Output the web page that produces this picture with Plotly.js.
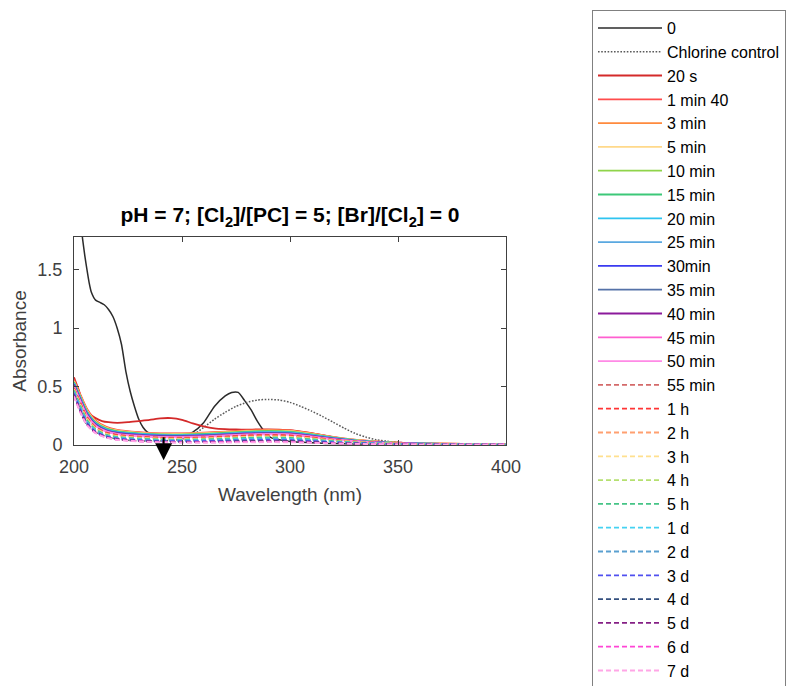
<!DOCTYPE html>
<html><head><meta charset="utf-8">
<script src="https://cdn.plot.ly/plotly-3.0.1.min.js"></script>
<style>html,body{margin:0;padding:0;background:#fff}#chart{width:786px;height:686px}</style>
</head><body><div id="chart"></div>
<script>
// ---- Data ----
const wlZero = [200,201,202,203,204,205,206,207,208,210,212,214,216,218,220,222,224,226,228,230,232,234,236,238,240,245,250,255,260,265,270,273,276,279,282,285,288,291,295,300,310,320,340,360,380,400];
const absZero = [1.80,1.95,2.0,1.92,1.76,1.62,1.50,1.39,1.31,1.24,1.22,1.20,1.16,1.10,1.0,0.86,0.63,0.46,0.33,0.22,0.15,0.11,0.09,0.078,0.072,0.068,0.075,0.11,0.19,0.33,0.42,0.45,0.45,0.38,0.30,0.20,0.12,0.065,0.045,0.03,0.02,0.012,0.008,0.005,0.004,0.003];

const wlControl = [200,205,210,220,230,240,245,250,255,260,265,270,275,280,285,290,295,300,305,310,315,320,325,330,335,340,345,350,360,370,380,400];
const absControl = [0.45,0.2,0.11,0.05,0.035,0.035,0.04,0.05,0.085,0.15,0.22,0.28,0.33,0.365,0.385,0.39,0.385,0.365,0.33,0.29,0.245,0.195,0.145,0.10,0.068,0.045,0.032,0.023,0.013,0.009,0.007,0.004];

const wl20s = [200,202,204,206,208,210,213,216,220,225,230,235,240,245,250,255,260,265,270,275,280,285,290,295,300,310,320,330,340,350,360,380,400];
const abs20s = [0.58,0.48,0.37,0.30,0.255,0.23,0.205,0.195,0.19,0.195,0.205,0.215,0.228,0.23,0.215,0.185,0.16,0.143,0.136,0.133,0.132,0.133,0.134,0.132,0.127,0.102,0.068,0.043,0.028,0.02,0.014,0.01,0.008];

const wl = [200,203,206,210,215,220,230,240,250,260,270,280,290,300,310,320,330,340,350,360,380,400];
const a1m40 = [0.56,0.43,0.31,0.21,0.155,0.13,0.11,0.10,0.10,0.105,0.115,0.125,0.13,0.125,0.10,0.07,0.045,0.03,0.02,0.014,0.01,0.008];
const a3m = [0.55,0.42,0.30,0.205,0.15,0.126,0.106,0.097,0.097,0.102,0.112,0.122,0.127,0.122,0.098,0.068,0.044,0.029,0.019,0.013,0.009,0.007];
const a5m = [0.545,0.415,0.295,0.20,0.146,0.122,0.103,0.094,0.094,0.099,0.108,0.118,0.123,0.118,0.095,0.066,0.043,0.028,0.018,0.013,0.009,0.007];
const a10m = [0.54,0.41,0.29,0.195,0.142,0.119,0.10,0.091,0.09,0.095,0.105,0.115,0.12,0.115,0.092,0.064,0.041,0.027,0.018,0.012,0.009,0.007];
const a15m = [0.535,0.405,0.285,0.19,0.138,0.115,0.097,0.088,0.087,0.092,0.101,0.111,0.116,0.111,0.089,0.062,0.04,0.026,0.017,0.012,0.008,0.006];
const a20m = [0.53,0.40,0.28,0.186,0.134,0.112,0.094,0.085,0.084,0.088,0.098,0.107,0.112,0.107,0.086,0.06,0.038,0.025,0.016,0.011,0.008,0.006];
const a25m = [0.525,0.395,0.275,0.182,0.13,0.108,0.091,0.082,0.081,0.085,0.094,0.103,0.108,0.103,0.083,0.058,0.037,0.024,0.016,0.011,0.008,0.006];
const a30m = [0.52,0.39,0.27,0.178,0.126,0.105,0.088,0.079,0.078,0.082,0.091,0.10,0.104,0.10,0.08,0.056,0.036,0.023,0.015,0.011,0.007,0.006];
const a35m = [0.515,0.385,0.265,0.174,0.123,0.102,0.085,0.076,0.075,0.079,0.088,0.097,0.101,0.097,0.077,0.054,0.035,0.022,0.015,0.01,0.007,0.005];
const a40m = [0.51,0.38,0.26,0.17,0.12,0.099,0.082,0.073,0.072,0.076,0.085,0.094,0.098,0.094,0.075,0.052,0.034,0.022,0.014,0.01,0.007,0.005];
const a45m = [0.505,0.375,0.255,0.166,0.117,0.096,0.079,0.07,0.069,0.073,0.082,0.091,0.095,0.091,0.073,0.05,0.033,0.021,0.014,0.01,0.007,0.005];
const a50m = [0.50,0.37,0.25,0.162,0.114,0.093,0.076,0.068,0.066,0.07,0.079,0.088,0.092,0.088,0.07,0.048,0.032,0.02,0.013,0.009,0.006,0.005];
const a55m = [0.49,0.36,0.24,0.155,0.108,0.088,0.072,0.064,0.062,0.066,0.074,0.083,0.087,0.083,0.066,0.046,0.03,0.019,0.013,0.009,0.006,0.004];
const a1h = [0.485,0.355,0.235,0.15,0.104,0.084,0.069,0.061,0.059,0.063,0.07,0.079,0.083,0.079,0.063,0.044,0.029,0.018,0.012,0.009,0.006,0.004];
const a2h = [0.48,0.345,0.228,0.144,0.098,0.079,0.064,0.056,0.054,0.057,0.064,0.072,0.076,0.072,0.058,0.04,0.027,0.017,0.011,0.008,0.005,0.004];
const a3h = [0.475,0.34,0.222,0.139,0.094,0.075,0.06,0.052,0.05,0.053,0.059,0.067,0.07,0.067,0.054,0.037,0.025,0.016,0.011,0.008,0.005,0.004];
const a4h = [0.47,0.335,0.217,0.135,0.09,0.071,0.057,0.049,0.047,0.05,0.056,0.063,0.066,0.063,0.05,0.035,0.023,0.015,0.01,0.007,0.005,0.003];
const a5h = [0.465,0.33,0.212,0.131,0.087,0.068,0.054,0.046,0.044,0.047,0.053,0.06,0.063,0.06,0.048,0.033,0.022,0.014,0.01,0.007,0.005,0.003];
const a1d = [0.455,0.318,0.202,0.124,0.081,0.063,0.049,0.042,0.04,0.042,0.047,0.053,0.056,0.053,0.042,0.029,0.019,0.013,0.009,0.006,0.004,0.003];
const a2d = [0.45,0.31,0.196,0.119,0.077,0.059,0.045,0.038,0.036,0.038,0.042,0.047,0.05,0.047,0.038,0.026,0.017,0.012,0.008,0.006,0.004,0.003];
const a3d = [0.44,0.30,0.188,0.114,0.073,0.055,0.041,0.034,0.032,0.033,0.037,0.041,0.043,0.041,0.033,0.023,0.015,0.011,0.007,0.005,0.004,0.003];
const a4d = [0.43,0.29,0.18,0.108,0.068,0.05,0.036,0.029,0.026,0.027,0.03,0.034,0.036,0.034,0.027,0.019,0.013,0.009,0.006,0.005,0.003,0.002];
const a5d = [0.425,0.285,0.177,0.106,0.066,0.048,0.034,0.027,0.024,0.025,0.027,0.03,0.032,0.03,0.024,0.017,0.012,0.008,0.006,0.004,0.003,0.002];
const a6d = [0.42,0.28,0.173,0.103,0.064,0.046,0.032,0.025,0.022,0.022,0.024,0.026,0.028,0.026,0.021,0.015,0.011,0.007,0.005,0.004,0.003,0.002];
const a7d = [0.415,0.275,0.17,0.10,0.062,0.044,0.03,0.023,0.02,0.02,0.021,0.023,0.024,0.023,0.018,0.013,0.01,0.007,0.005,0.004,0.003,0.002];

const seriesNames = ["0","Chlorine control","20 s","1 min 40","3 min","5 min","10 min","15 min","20 min","25 min","30min","35 min","40 min","45 min","50 min","55 min","1 h","2 h","3 h","4 h","5 h","1 d","2 d","3 d","4 d","5 d","6 d","7 d"];
const seriesX = [wlZero, wlControl, wl20s, wl,wl,wl,wl,wl,wl,wl,wl,wl,wl,wl,wl, wl,wl,wl,wl,wl,wl,wl,wl,wl,wl,wl,wl,wl];
const seriesY = [absZero, absControl, abs20s, a1m40,a3m,a5m,a10m,a15m,a20m,a25m,a30m,a35m,a40m,a45m,a50m, a55m,a1h,a2h,a3h,a4h,a5h,a1d,a2d,a3d,a4d,a5d,a6d,a7d];
const seriesColors = ["#2b2b2b","#5a5a5a","#d42a2a","#ff4d4d","#ff8a3d","#ffd98a","#8fd44a","#3cc878","#2ec4f0","#5aa8e0","#3a3af0","#5572a8","#8b1a9b","#ff5fd0","#ff8ae6",
  "#d46a6a","#ff3535","#ffa070","#ffe08e","#b5e070","#45c486","#45d2f2","#5aa0d0","#5050f0","#34507f","#852085","#ff45d5","#ffa6e6"];
const seriesDash = ["solid","1.6px,1.6px","solid","solid","solid","solid","solid","solid","solid","solid","solid","solid","solid","solid","solid",
  "5px,3px","5px,3px","5px,3px","5px,3px","5px,3px","5px,3px","5px,3px","5px,3px","5px,3px","5px,3px","5px,3px","5px,3px","5px,3px"];
const xTicks = [200,250,300,350,400];
const yTicks = [0,0.5,1,1.5];
const yTickText = ["0","0.5","1","1.5"];

const FONT = "Liberation Sans, Arial, Helvetica, sans-serif";
const traces = seriesNames.map((n,i)=>({
  type:'scatter', mode:'lines', name:n, x:seriesX[i], y:seriesY[i],
  line:{color:seriesColors[i], width:(i<2?1.5:1.8), dash:seriesDash[i], shape:'spline', smoothing:0.6},
  hoverinfo:'skip'
}));

const layout = {
  width:786, height:686,
  paper_bgcolor:'#fff', plot_bgcolor:'#fff',
  margin:{l:74, r:280, t:237, b:241, pad:0},
  font:{family:FONT, color:'#262626'},
  title:{text:'pH = 7; [Cl<sub>2</sub>]/[PC] = 5; [Br]/[Cl<sub>2</sub>] = 0', font:{family:FONT, size:21, color:'#000', weight:'bold'},
    x:290/786, xanchor:'center', xref:'container', y:1-215/686, yanchor:'middle', yref:'container'},
  xaxis:{range:[200,400], tickvals:xTicks, ticktext:xTicks.map(String), ticks:'inside', ticklen:5, tickcolor:'#404040',
    showline:true, linecolor:'#404040', linewidth:1, mirror:'ticks', showgrid:false, zeroline:false,
    tickfont:{size:18, color:'#404040', family:FONT}, ticklabelstandoff:5,
    title:{text:'Wavelength (nm)', font:{size:19, color:'#404040', family:FONT}, standoff:12}},
  yaxis:{range:[0,1.78], tickvals:yTicks, ticktext:yTickText, ticks:'inside', ticklen:5, tickcolor:'#404040',
    showline:true, linecolor:'#404040', linewidth:1, mirror:'ticks', showgrid:false, zeroline:false,
    tickfont:{size:18, color:'#404040', family:FONT}, ticklabelstandoff:7,
    title:{text:'Absorbance', font:{size:19, color:'#404040', family:FONT}, standoff:5}},
  showlegend:true,
  legend:{x:592/786, y:1-10/686, xref:'container', yref:'container', xanchor:'left', yanchor:'top',
    bordercolor:'#808080', borderwidth:1, bgcolor:'#fff', font:{size:16, color:'#000', family:FONT},
    itemwidth:64, tracegroupgap:0, traceorder:'normal', maxheight:2000},
  annotations:[{x:241.5, y:-0.13, xref:'x', yref:'y', ax:241.5, ay:0.08, axref:'x', ayref:'y',
    showarrow:true, arrowhead:2, arrowsize:1.7, arrowwidth:2, arrowcolor:'#000', text:''}]
};
Plotly.newPlot('chart', traces, layout, {staticPlot:true, displayModeBar:false});
</script></body></html>
